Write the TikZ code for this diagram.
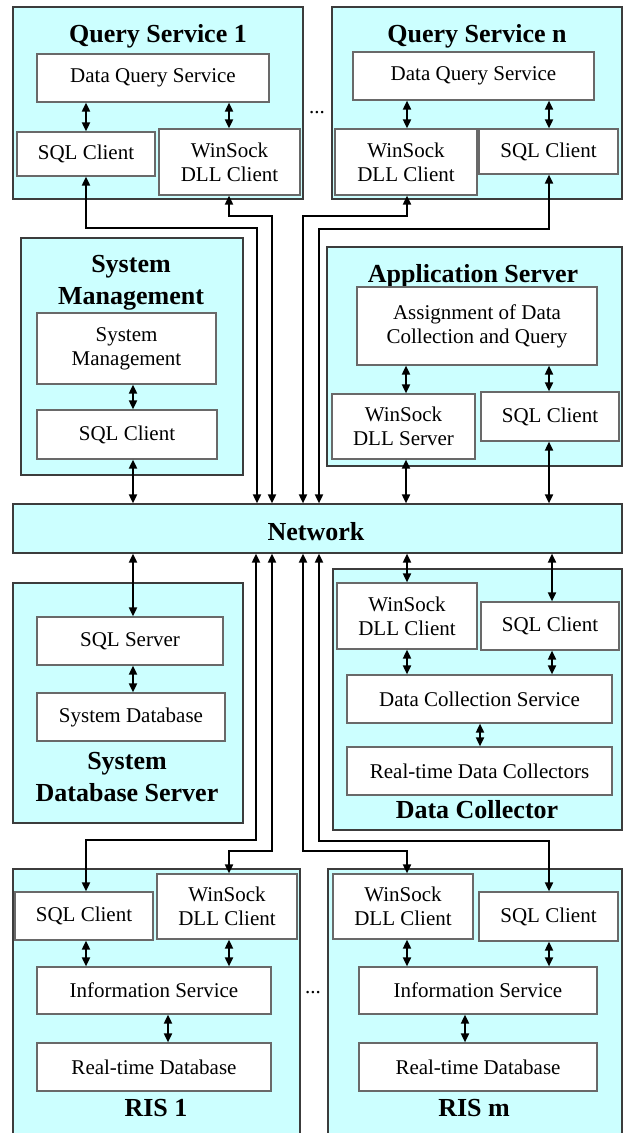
\documentclass[tikz,border=0pt]{standalone}
\usepackage{fontspec}
\setmainfont{Liberation Serif}
\usetikzlibrary{arrows.meta,fit}
\definecolor{panelfill}{RGB}{204,255,255}
\definecolor{paneledge}{RGB}{60,60,60}
\definecolor{boxedge}{RGB}{105,105,105}
% inner box from its corners: name, x1, y1, x2, y2, text
\newcommand\ibx[6]{\node[ibox, minimum width={(#4-#2)*0.5pt}, minimum height={(#5-#3)*0.5pt}]
  (#1) at ({(#2+#4)/2},{(#3+#5)/2}) {#6};}
\begin{document}
\begin{tikzpicture}[x=0.5pt,y=-0.5pt,
  panel/.style={draw=paneledge, fill=panelfill, line width=0.6pt, inner sep=0pt},
  ibox/.style={draw=boxedge, fill=white, line width=0.6pt, inner sep=0pt, align=center,
    font=\fontsize{10.5}{12}\selectfont},
  ttl/.style={font=\fontsize{13}{16}\selectfont\bfseries, align=center, inner sep=0pt},
  ttlb/.style={ttl, anchor=base},
  dots/.style={font=\fontsize{10.5}{12}\selectfont, inner sep=0pt},
  dbl/.style={{Triangle[length=4.5pt,width=4pt]}-{Triangle[length=4.5pt,width=4pt]}, line width=0.9pt},
]
\useasboundingbox (0,0) rectangle (624,1133);

% column coordinates
\foreach \x in {86,133,168,229,256,257,272,303,319,406,407,465,480,549,552}{\coordinate (c\x) at (\x,0);}

% ---------- Query Service 1
\node[panel, fit={(13,7) (303,199)}] (qs1) {};
\node[ttlb] (qs1t) at (158,43) {Query Service 1};
\ibx{qs1dq}{37}{54}{269}{102}{Data Query Service}
\ibx{qs1sql}{17}{132}{155}{176}{SQL Client}
\ibx{qs1ws}{159}{129}{300}{195}{WinSock\\DLL Client}

% ---------- Query Service n
\node[panel, fit={(332,7) (622,199)}] (qsn) {};
\node[ttlb] (qsnt) at (477,43) {Query Service n};
\ibx{qsndq}{353}{52}{594}{100}{Data Query Service}
\ibx{qsnws}{335}{129}{477}{195}{WinSock\\DLL Client}
\ibx{qsnsql}{479}{129}{618}{174}{SQL Client}

\node[dots] (dotsq) at (317,113) {...};

% ---------- System Management
\node[panel, fit={(21,238) (243,475)}] (sm) {};
\node[ttl] (smt) at (131,283) {System\\Management};
\ibx{smsys}{37}{313}{216}{384}{System\\Management}
\ibx{smsql}{37}{410}{217}{459}{SQL Client}

% ---------- Application Server
\node[panel, fit={(327,247) (622,466)}] (as) {};
\node[ttlb] (ast) at (473,283) {Application Server};
\ibx{asasg}{357}{287}{597}{365}{Assignment of Data\\Collection and Query}
\ibx{asws}{332}{394}{475}{459}{WinSock\\DLL Server}
\ibx{assql}{481}{392}{619}{441}{SQL Client}

% ---------- Network
\node[panel, fit={(13,504) (622,553)}] (net) {};
\node[ttlb] (nett) at (316,540) {Network};

% ---------- System Database Server
\node[panel, fit={(13,583) (243,823)}] (sdb) {};
\ibx{sqlsrv}{37}{617}{223}{665}{SQL Server}
\ibx{sysdb}{37}{693}{225}{741}{System Database}
\node[ttl] (sdbt) at (127,777) {System\\Database Server};

% ---------- Data Collector
\node[panel, fit={(333,569) (622,830)}] (dc) {};
\ibx{dcws}{337}{583}{477}{649}{WinSock\\DLL Client}
\ibx{dcsql}{481}{602}{619}{650}{SQL Client}
\ibx{dcs}{347}{675}{612}{723}{Data Collection Service}
\ibx{dcrt}{347}{747}{612}{795}{Real-time Data Collectors}
\node[ttlb] (dct) at (477,818) {Data Collector};

% ---------- RIS 1
\node[panel, fit={(13,869) (300,1136)}] (r1) {};
\ibx{r1sql}{15}{892}{153}{940}{SQL Client}
\ibx{r1ws}{157}{874}{297}{939}{WinSock\\DLL Client}
\ibx{r1is}{37}{967}{271}{1014}{Information Service}
\ibx{r1rt}{37}{1043}{271}{1091}{Real-time Database}
\node[ttlb] (r1t) at (156,1116) {RIS 1};

% ---------- RIS m
\node[panel, fit={(328,869) (622,1136)}] (rm) {};
\ibx{rmws}{333}{874}{473}{939}{WinSock\\DLL Client}
\ibx{rmsql}{479}{892}{618}{941}{SQL Client}
\ibx{rmis}{359}{967}{597}{1014}{Information Service}
\ibx{rmrt}{359}{1043}{597}{1091}{Real-time Database}
\node[ttlb] (rmt) at (474,1116) {RIS m};

\node[dots] (dotsr) at (313,993) {...};

% ---------- connectors inside boxes
\draw[dbl] (qs1dq.south -| c86) -- (qs1sql.north -| c86);
\draw[dbl] (qs1dq.south -| c229) -- (qs1ws.north -| c229);
\draw[dbl] (qsndq.south -| c407) -- (qsnws.north -| c407);
\draw[dbl] (qsndq.south -| c549) -- (qsnsql.north -| c549);
\draw[dbl] (smsys.south -| c133) -- (smsql.north -| c133);
\draw[dbl] (asasg.south -| c406) -- (asws.north -| c406);
\draw[dbl] (asasg.south -| c549) -- (assql.north -| c549);
\draw[dbl] (sqlsrv.south -| c133) -- (sysdb.north -| c133);
\draw[dbl] (dcws.south -| c407) -- (dcs.north -| c407);
\draw[dbl] (dcsql.south -| c552) -- (dcs.north -| c552);
\draw[dbl] (dcs.south -| c480) -- (dcrt.north -| c480);
\draw[dbl] (r1sql.south -| c86) -- (r1is.north -| c86);
\draw[dbl] (r1ws.south -| c229) -- (r1is.north -| c229);
\draw[dbl] (r1is.south -| c168) -- (r1rt.north -| c168);
\draw[dbl] (rmws.south -| c407) -- (rmis.north -| c407);
\draw[dbl] (rmsql.south -| c549) -- (rmis.north -| c549);
\draw[dbl] (rmis.south -| c465) -- (rmrt.north -| c465);

% ---------- connectors to the network
\draw[dbl] (qs1sql.south -| c86) |- (257,228) -- (net.north -| c257);
\draw[dbl] (qs1ws.south -| c229) |- (272,216) -- (net.north -| c272);
\draw[dbl] (qsnws.south -| c407) |- (303,216) -- (net.north -| c303);
\draw[dbl] (qsnsql.south -| c549) |- (319,229) -- (net.north -| c319);
\draw[dbl] (smsql.south -| c133) -- (net.north -| c133);
\draw[dbl] (asws.south -| c406) -- (net.north -| c406);
\draw[dbl] (assql.south -| c549) -- (net.north -| c549);
\draw[dbl] (net.south -| c133) -- (sqlsrv.north -| c133);
\draw[dbl] (net.south -| c407) -- (dcws.north -| c407);
\draw[dbl] (net.south -| c552) -- (dcsql.north -| c552);
\draw[dbl] (net.south -| c256) |- (86,840) -- (r1sql.north -| c86);
\draw[dbl] (net.south -| c272) |- (229,851) -- (r1ws.north -| c229);
\draw[dbl] (net.south -| c303) |- (407,851) -- (rmws.north -| c407);
\draw[dbl] (net.south -| c319) |- (549,841) -- (rmsql.north -| c549);
\end{tikzpicture}
\end{document}
